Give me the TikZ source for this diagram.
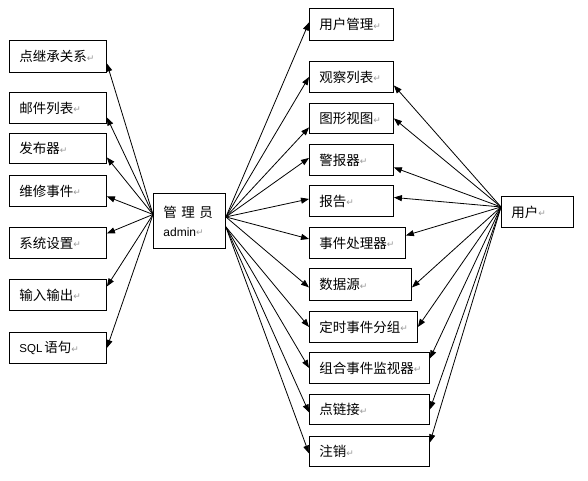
\documentclass[tikz,border=0pt]{standalone}
\usepackage{fontspec}
\setmainfont{Liberation Sans}
\newfontfamily\cjk{Noto Sans CJK SC}
\newfontfamily\dejavu{DejaVu Sans}
\usetikzlibrary{arrows.meta}
\newcommand{\parmark}{{\color{black!40}\dejavu\fontsize{9}{9}\selectfont\raisebox{0.5pt}{↵}}}
\tikzset{
  box/.style={draw, line width=0.9pt, anchor=north west, inner xsep=10pt, inner ysep=0pt, align=left},
  conn/.style={line width=0.8pt, -{Triangle[length=8pt,width=6pt]}}
}
\begin{document}
\begin{tikzpicture}[x=1pt,y=-1pt, font=\fontsize{13.5}{16}\selectfont\cjk]
\useasboundingbox (0,0) rectangle (588,481);
% left column
\node[box, text width=77pt, minimum height=32pt] (L1) at (9,40) {点继承关系\parmark};
\node[box, text width=77pt, minimum height=31pt] (L2) at (9,92) {邮件列表\parmark};
\node[box, text width=77pt, minimum height=30pt] (L3) at (9,133) {发布器\parmark};
\node[box, text width=77pt, minimum height=31pt] (L4) at (9,175) {维修事件\parmark};
\node[box, text width=77pt, minimum height=31pt] (L5) at (9,227) {系统设置\parmark};
\node[box, text width=77pt, minimum height=31pt] (L6) at (9,279) {输入输出\parmark};
\node[box, text width=77pt, minimum height=31pt] (L7) at (9,332) {{\rmfamily\fontsize{11.5}{14}\selectfont SQL\hspace{2pt}}语句\parmark};
% admin
\node[box, text width=52pt, minimum height=55pt] (admin) at (153,193)
  {管 理 员\\[3pt]{\rmfamily\fontsize{12}{14}\selectfont admin}\parmark};
% right column
\node[box, text width=64pt, minimum height=32pt] (R1) at (309,8) {用户管理\parmark};
\node[box, text width=64pt, minimum height=31pt] (R2) at (309,61) {观察列表\parmark};
\node[box, text width=64pt, minimum height=30pt] (R3) at (309,103) {图形视图\parmark};
\node[box, text width=64pt, minimum height=31pt] (R4) at (309,144) {警报器\parmark};
\node[box, text width=64pt, minimum height=31pt] (R5) at (309,185) {报告\parmark};
\node[box, text width=76pt, minimum height=31pt] (R6) at (309,227) {事件处理器\parmark};
\node[box, text width=82pt, minimum height=32pt] (R7) at (309,268) {数据源\parmark};
\node[box, text width=88pt, minimum height=31pt] (R8) at (309,311) {定时事件分组\parmark};
\node[box, text width=100pt, minimum height=31pt] (R9) at (309,352) {组合事件监视器\parmark};
\node[box, text width=100pt, minimum height=30pt] (R10) at (309,394) {点链接\parmark};
\node[box, text width=100pt, minimum height=30pt] (R11) at (309,436) {注销\parmark};
% user
\node[box, text width=52pt, minimum height=31pt] (user) at (501,196) {用户\parmark};
% admin -> left
\draw[conn] ([yshift=6.5pt]admin.west) -- ([yshift=-7pt]L1.east);
\draw[conn] ([yshift=6.5pt]admin.west) -- ([yshift=-9.5pt]L2.east);
\draw[conn] ([yshift=6.5pt]admin.west) -- ([yshift=-9pt]L3.east);
\draw[conn] ([yshift=6.5pt]admin.west) -- ([yshift=-5.5pt]L4.east);
\draw[conn] ([yshift=6.5pt]admin.west) -- ([yshift=9.5pt]L5.east);
\draw[conn] ([yshift=6.5pt]admin.west) -- ([yshift=8.5pt]L6.east);
\draw[conn] ([yshift=6.5pt]admin.west) -- (L7.east);
% admin -> right
\draw[conn] ([yshift=4pt]admin.east) -- ([yshift=2pt]R1.west);
\draw[conn] ([yshift=4pt]admin.east) -- (R2.west);
\draw[conn] ([yshift=4pt]admin.east) -- ([yshift=-9pt]R3.west);
\draw[conn] ([yshift=4pt]admin.east) -- ([yshift=2pt]R4.west);
\draw[conn] ([yshift=4pt]admin.east) -- ([yshift=2pt]R5.west);
\draw[conn] ([yshift=4pt]admin.east) -- ([yshift=4pt]R6.west);
\draw[conn] ([yshift=4pt]admin.east) -- ([yshift=-3pt]R7.west);
\draw[conn] ([yshift=-6pt]admin.east) -- (R8.west);
\draw[conn] ([yshift=-6pt]admin.east) -- (R9.west);
\draw[conn] ([yshift=-6pt]admin.east) -- ([yshift=-3pt]R10.west);
\draw[conn] ([yshift=-6pt]admin.east) -- ([yshift=-2pt]R11.west);
% user -> right
\draw[conn] ([yshift=5pt]user.west) -- ([yshift=-8.5pt]R2.east);
\draw[conn] ([yshift=5pt]user.west) -- (R3.east);
\draw[conn] ([yshift=5pt]user.west) -- ([yshift=-7.5pt]R4.east);
\draw[conn] ([yshift=5pt]user.west) -- ([yshift=3.5pt]R5.east);
\draw[conn] ([yshift=5pt]user.west) -- ([yshift=7.5pt]R6.east);
\draw[conn] ([yshift=5pt]user.west) -- ([yshift=-3pt]R7.east);
\draw[conn] ([yshift=5pt]user.west) -- (R8.east);
\draw[conn] ([yshift=5pt]user.west) -- ([yshift=9.5pt]R9.east);
\draw[conn] ([yshift=5pt]user.west) -- (R10.east);
\draw[conn] ([yshift=5pt]user.west) -- ([yshift=9pt]R11.east);
\end{tikzpicture}
\end{document}
